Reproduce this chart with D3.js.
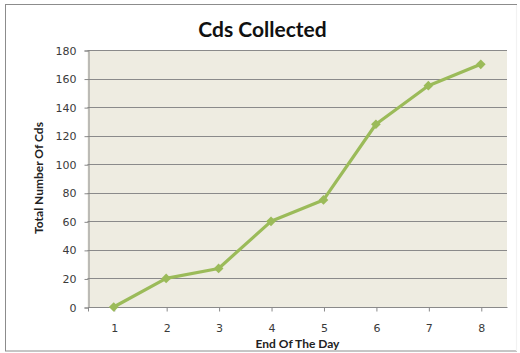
<!DOCTYPE html>
<html><head><meta charset="utf-8">
<script src="https://cdn.jsdelivr.net/npm/d3@7"></script>
<style>
html,body{margin:0;padding:0;background:#fff;}
svg{display:block;}
</style></head>
<body>
<svg id="chart" width="520" height="353"></svg>
<script>
const categories = ["1","2","3","4","5","6","7","8"];
const values = [0, 20, 27, 60, 75, 128, 155, 170];
const yTicks = [0, 20, 40, 60, 80, 100, 120, 140, 160, 180];
const title = "Cds Collected";
const xTitle = "End Of The Day";
const yTitle = "Total Number Of Cds";

const svg = d3.select("#chart");
const m = {left: 87.5, right: 507, top: 50, bottom: 307};

// outer frame
svg.append("rect").attr("x",5.5).attr("y",4.5).attr("width",511).attr("height",346.5)
  .attr("fill","#fff").attr("stroke","#8c8c8c").attr("stroke-width",1);
svg.append("line").attr("x1",516.5).attr("x2",516.5).attr("y1",5).attr("y2",351)
  .attr("stroke","#f2f2f2").attr("stroke-width",1.2);

const x = d3.scalePoint().domain(categories).range([m.left, m.right]).padding(0.5);
const y = d3.scaleLinear().domain([0,180]).range([m.bottom, m.top]);

// plot area
svg.append("rect").attr("x",m.left).attr("y",m.top).attr("width",m.right-m.left).attr("height",m.bottom-m.top)
  .attr("fill","#eeece1");

// gridlines
svg.append("g").selectAll("line").data(yTicks.filter(d=>d>0)).join("line")
  .attr("x1",m.left).attr("x2",m.right)
  .attr("y1",d=>Math.round(y(d))+0.5).attr("y2",d=>Math.round(y(d))+0.5)
  .attr("stroke","#8a8a8a").attr("stroke-width",1);

// y axis
const yAxis = d3.axisLeft(y).tickValues(yTicks).tickSize(4).tickPadding(8);
const gy = svg.append("g").attr("transform",`translate(${Math.round(m.left)+0.5},0.5)`).call(yAxis);
gy.select(".domain").attr("stroke","#8a8a8a");
gy.selectAll(".tick line").attr("stroke","#8a8a8a");
gy.selectAll("text").attr("font-family","'DejaVu Sans', sans-serif").attr("font-size",11).attr("fill","#3a3a3a");

// x axis
const xAxis = d3.axisBottom(x).tickSize(4).tickPadding(12.5).tickSizeOuter(0);
const gx = svg.append("g").attr("transform",`translate(0.5,${Math.round(m.bottom)+0.5})`).call(xAxis);
gx.select(".domain").attr("stroke","#8a8a8a").attr("d",`M${m.left},0H${m.right}`);
gx.selectAll(".tick line").attr("stroke","#8a8a8a");
gx.selectAll("text").attr("font-family","'DejaVu Sans', sans-serif").attr("font-size",11).attr("fill","#3a3a3a");
gx.append("line").attr("x1",Math.round(m.left)).attr("x2",Math.round(m.left)).attr("y1",0).attr("y2",4).attr("stroke","#8a8a8a");

// line
const pts = categories.map((c,i)=>({c, v: values[i]}));
svg.append("path").datum(pts)
  .attr("d", d3.line().x(d=>x(d.c)).y(d=>y(d.v)))
  .attr("fill","none").attr("stroke","#9bbb59").attr("stroke-width",3.2).attr("stroke-linejoin","round");

svg.append("g").selectAll("path").data(pts).join("path")
  .attr("d", d3.symbol().type(d3.symbolDiamond2).size(60))
  .attr("transform", d=>`translate(${x(d.c)},${y(d.v)})`)
  .attr("fill","#9bbb59");

// titles
svg.append("text").attr("x",262.5).attr("y",37).attr("text-anchor","middle")
  .attr("font-family","Lato, 'Open Sans', sans-serif").attr("font-weight","bold").attr("font-size",21)
  .attr("fill","#111").text(title);

svg.append("text").attr("x",297.5).attr("y",348).attr("text-anchor","middle")
  .attr("font-family","Lato, 'Open Sans', sans-serif").attr("font-weight","bold").attr("font-size",12)
  .attr("fill","#222").text(xTitle);

svg.append("text").attr("transform","translate(43,178) rotate(-90)").attr("text-anchor","middle")
  .attr("font-family","Lato, 'Open Sans', sans-serif").attr("font-weight","bold").attr("font-size",12)
  .attr("fill","#222").text(yTitle);
</script>
</body></html>
